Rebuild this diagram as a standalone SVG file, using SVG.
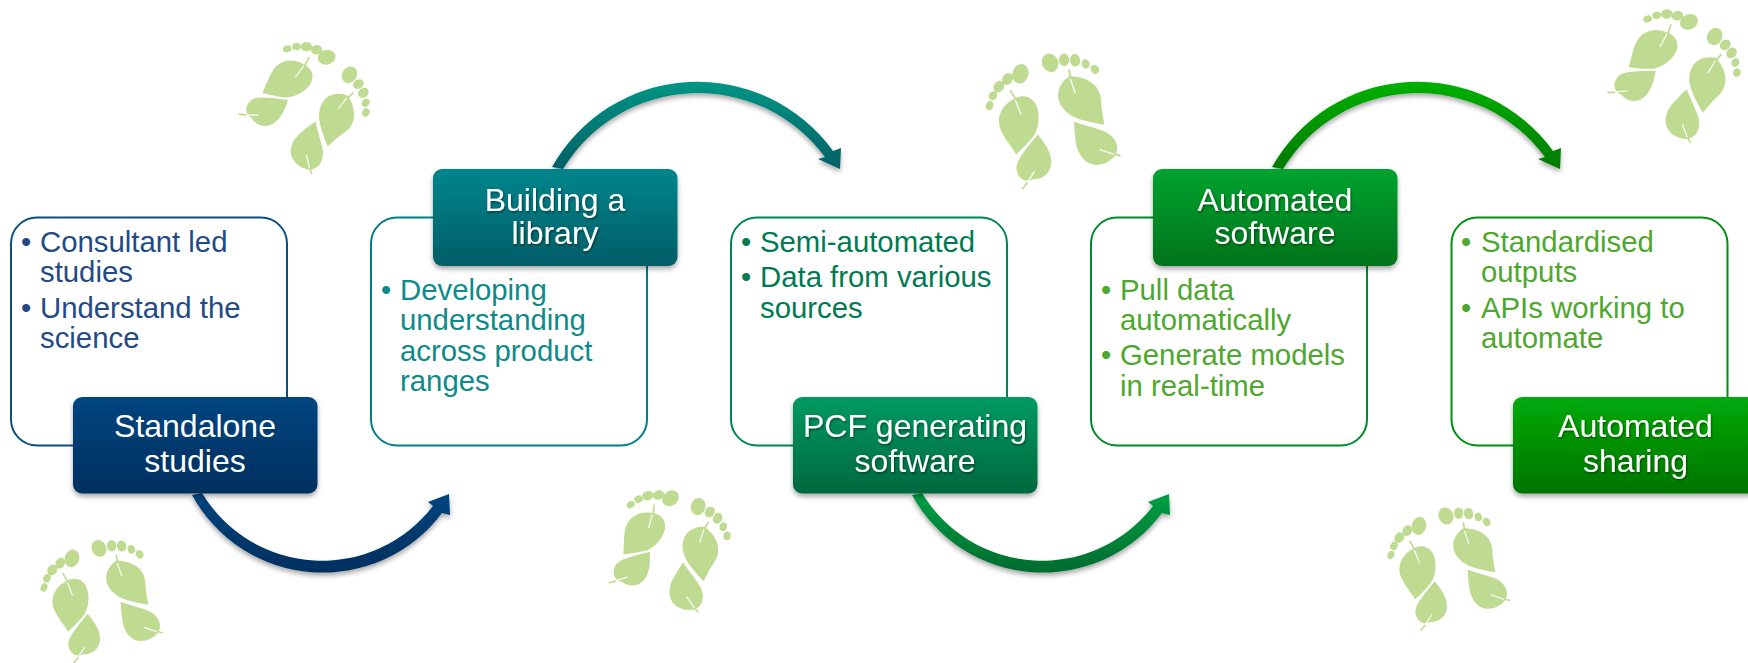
<svg xmlns="http://www.w3.org/2000/svg" xmlns:xlink="http://www.w3.org/1999/xlink" width="1748" height="663" viewBox="0 0 1748 663">
<style>
text{font-family:"Liberation Sans",Arial,sans-serif}
.b{font-size:29.33px}
.l{font-size:32px;fill:#fff;text-anchor:middle}
.ts{filter:url(#ts)}
.o{fill:#fff;stroke-width:2}
.h{filter:url(#sh)}
.leaf{fill:#bfdb92}
.v{fill:none;stroke:#fff;stroke-width:3.5;stroke-linecap:round}
.stem{fill:none;stroke:#bfdb92;stroke-width:5;stroke-linecap:round}
</style>
<defs>
<filter id="sh" x="-10%" y="-10%" width="120%" height="125%"><feDropShadow dx="0" dy="3" stdDeviation="2.5" flood-color="#000" flood-opacity=".35"/></filter>
<filter id="ts" x="-10%" y="-10%" width="120%" height="125%"><feDropShadow dx="1" dy="1.5" stdDeviation="1" flood-color="#000" flood-opacity=".45"/></filter>
<linearGradient id="g1" x1="0" y1="0" x2="0" y2="1"><stop offset="0" stop-color="#00457f"/><stop offset="1" stop-color="#002f5f"/></linearGradient>
<linearGradient id="g2" x1="0" y1="0" x2="0" y2="1"><stop offset="0" stop-color="#00858c"/><stop offset="1" stop-color="#005d66"/></linearGradient>
<linearGradient id="g3" x1="0" y1="0" x2="0" y2="1"><stop offset="0" stop-color="#009a62"/><stop offset="1" stop-color="#00683e"/></linearGradient>
<linearGradient id="g4" x1="0" y1="0" x2="0" y2="1"><stop offset="0" stop-color="#00a32f"/><stop offset="1" stop-color="#00731a"/></linearGradient>
<linearGradient id="g5" x1="0" y1="0" x2="0" y2="1"><stop offset="0" stop-color="#00ab08"/><stop offset="1" stop-color="#007400"/></linearGradient>
<linearGradient id="a2" x1="0" y1="0" x2="0" y2="1"><stop offset="0" stop-color="#009584"/><stop offset="1" stop-color="#006066"/></linearGradient>
<linearGradient id="a3" x1="0" y1="0" x2="0" y2="1"><stop offset="0" stop-color="#00a044"/><stop offset="1" stop-color="#006b2f"/></linearGradient>
<linearGradient id="a4" x1="0" y1="0" x2="0" y2="1"><stop offset="0" stop-color="#00b000"/><stop offset="1" stop-color="#007a00"/></linearGradient>
<g id="feet" transform="scale(.3333) translate(-205 -205)">
<ellipse class="leaf" cx="198" cy="48" rx="22" ry="26" transform="rotate(-25 198 48)"/>
<ellipse class="leaf" cx="236" cy="40" rx="14" ry="17"/>
<ellipse class="leaf" cx="266" cy="41" rx="14" ry="17" transform="rotate(-10 266 41)"/>
<ellipse class="leaf" cx="295" cy="51" rx="11" ry="13" transform="rotate(-20 295 51)"/>
<ellipse class="leaf" cx="320" cy="66" rx="11" ry="13" transform="rotate(-30 320 66)"/>
<path class="leaf" d="M250 85C300 85 335 110 337 150C338 175 342 195 346 217C315 212 280 205 258 193C232 178 217 155 220 130C223 110 235 95 250 85Z"/>
<path class="v" d="M253 92L266 130"/>
<path class="stem" d="M250 68L254 90"/>
<path class="leaf" d="M263 209C295 220 330 228 348 236C368 246 381 262 381 280C381 288 379 294 376 300C362 318 340 328 318 326C292 322 277 300 270 275C266 255 264 230 263 209Z"/>
<path class="v" d="M334 285L372 298"/>
<path class="stem" d="M374 298L388 301"/>
<ellipse class="leaf" cx="117" cy="78" rx="22" ry="27" transform="rotate(15 117 78)"/>
<ellipse class="leaf" cx="82" cy="92" rx="14" ry="17" transform="rotate(30 82 92)"/>
<ellipse class="leaf" cx="58" cy="113" rx="14" ry="17" transform="rotate(35 58 113)"/>
<ellipse class="leaf" cx="42" cy="138" rx="11" ry="13" transform="rotate(30 42 138)"/>
<ellipse class="leaf" cx="33" cy="165" rx="10" ry="13" transform="rotate(20 33 165)"/>
<path class="leaf" d="M103 145C130 130 160 145 165 180C170 210 162 232 155 245C140 265 120 285 105 298C90 272 68 250 60 222C52 190 72 158 103 145Z"/>
<path class="v" d="M103 150L118 188"/>
<path class="stem" d="M90 124L104 148"/>
<path class="leaf" d="M164 244C188 272 203 298 201 322C199 348 180 366 152 366C128 378 107 360 106 335C106 312 140 275 164 244Z"/>
<path class="v" d="M155 345L136 374"/>
<path class="stem" d="M135 376L123 391"/>
</g>
</defs>
<g id="footprints">
<use xlink:href="#feet" href="#feet" transform="translate(101.3 600.7)"/>
<use xlink:href="#feet" href="#feet" transform="translate(306.3 104.5) rotate(58)"/>
<use xlink:href="#feet" href="#feet" transform="translate(668.5 549.7) rotate(37)"/>
<use xlink:href="#feet" href="#feet" transform="translate(1052.7 120.3) scale(1.1)"/>
<use xlink:href="#feet" href="#feet" transform="translate(1448.3 568.3)"/>
<use xlink:href="#feet" href="#feet" transform="translate(1675 73) rotate(50) scale(1.03)"/>
</g>
<g id="connectors">
<path class="h" fill="url(#g1)" d="M192,495A149,149 0 0 0 442,513L450,515L449,494L428,502L433,506A140,140 0 0 1 202,493Z"/>
<path class="h" fill="url(#a2)" d="M552,167A167,167 0 0 1 833,151L841,148L840,169L818,159L825,157A158,158 0 0 0 563,169Z"/>
<path class="h" fill="url(#a3)" d="M912,495A149,149 0 0 0 1162,513L1170,515L1169,494L1148,502L1153,506A140,140 0 0 1 922,493Z"/>
<path class="h" fill="url(#a4)" d="M1272,167A167,167 0 0 1 1553,151L1561,148L1560,169L1538,159L1545,157A158,158 0 0 0 1283,169Z"/>
</g>
<g id="node1">
<rect class="o" x="11" y="217.5" width="276" height="228" rx="26" stroke="#0a4f80"/>
<g class="b" fill="#234a85">
<text x="21" y="251.5">•</text><text x="40" y="251.5">Consultant led</text><text x="40" y="282">studies</text>
<text x="21" y="317.5">•</text><text x="40" y="317.5">Understand the</text><text x="40" y="348">science</text>
</g>
<rect class="h" x="73" y="397" width="244.5" height="96.5" rx="9" fill="url(#g1)"/>
<text class="l" x="195" y="437">Standalone</text><text class="l" x="195" y="471.5">studies</text>
</g>
<g id="node2">
<rect class="o" x="371" y="217.5" width="276" height="228" rx="26" stroke="#007f86"/>
<g class="b" fill="#0d8a8c">
<text x="381" y="299.5">•</text><text x="400" y="299.5">Developing</text><text x="400" y="330">understanding</text><text x="400" y="361">across product</text><text x="400" y="391">ranges</text>
</g>
<rect class="h" x="433" y="169" width="244.5" height="97" rx="9" fill="url(#g2)"/>
<g class="ts"><text class="l" x="555" y="210.5">Building a</text><text class="l" x="555" y="244">library</text></g>
</g>
<g id="node3">
<rect class="o" x="731" y="217.5" width="276" height="228" rx="26" stroke="#008558"/>
<g class="b" fill="#007a52">
<text x="741" y="251.5">•</text><text x="760" y="251.5">Semi-automated</text>
<text x="741" y="287">•</text><text x="760" y="287">Data from various</text><text x="760" y="318">sources</text>
</g>
<rect class="h" x="793" y="397" width="244.5" height="96.5" rx="9" fill="url(#g3)"/>
<g class="ts"><text class="l" x="915" y="437">PCF generating</text><text class="l" x="915" y="471.5">software</text></g>
</g>
<g id="node4">
<rect class="o" x="1091" y="217.5" width="276" height="228" rx="26" stroke="#008a30"/>
<g class="b" fill="#4ea72e">
<text x="1101" y="299.5">•</text><text x="1120" y="299.5">Pull data</text><text x="1120" y="330">automatically</text>
<text x="1101" y="365">•</text><text x="1120" y="365">Generate models</text><text x="1120" y="395.5">in real-time</text>
</g>
<rect class="h" x="1153" y="169" width="244.5" height="97" rx="9" fill="url(#g4)"/>
<g class="ts"><text class="l" x="1275" y="210.5">Automated</text><text class="l" x="1275" y="244">software</text></g>
</g>
<g id="node5">
<rect class="o" x="1451.5" y="217.5" width="276" height="228" rx="26" stroke="#009010"/>
<g class="b" fill="#4ea72e">
<text x="1461" y="251.5">•</text><text x="1481" y="251.5">Standardised</text><text x="1481" y="282">outputs</text>
<text x="1461" y="317.5">•</text><text x="1481" y="317.5">APIs working to</text><text x="1481" y="348">automate</text>
</g>
<rect class="h" x="1513" y="397" width="244.5" height="96.5" rx="9" fill="url(#g5)"/>
<g class="ts"><text class="l" x="1635.5" y="437">Automated</text><text class="l" x="1635.5" y="471.5">sharing</text></g>
</g>
</svg>
